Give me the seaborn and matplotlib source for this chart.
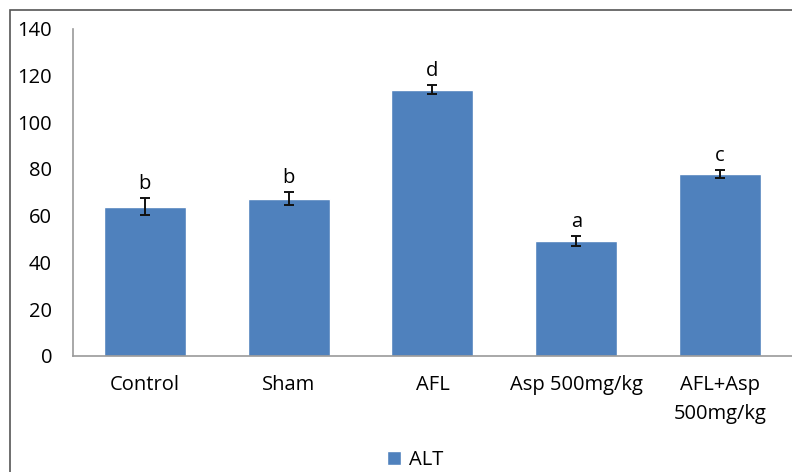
import pandas as pd
import seaborn as sns
import matplotlib.pyplot as plt
from matplotlib.patches import Rectangle

groups = ['Control', 'Sham', 'AFL', 'Asp 500mg/kg', 'AFL+Asp\n500mg/kg']
alt = [63.8, 67.2, 113.9, 49.2, 77.9]
alt_err = [3.6, 2.8, 2.0, 2.0, 1.7]
letters = ['b', 'b', 'd', 'a', 'c']

df = pd.DataFrame({'group': groups, 'ALT': alt})

sns.set_style('white')
plt.rcParams['font.family'] = ['Open Sans', 'DejaVu Sans']
plt.rcParams['text.color'] = 'black'
plt.rcParams['xtick.color'] = 'black'
plt.rcParams['ytick.color'] = 'black'

fig = plt.figure(figsize=(7.92, 4.72), dpi=100)
ax = fig.add_axes([0.092, 0.246, 0.908, 0.693])

sns.barplot(data=df, x='group', y='ALT', color='#4F81BD', width=0.57,
            saturation=1, ax=ax, label='ALT')
ax.errorbar(range(len(groups)), alt, yerr=alt_err, fmt='none',
            ecolor='#111111', elinewidth=1.4, capsize=3.8, capthick=1.4)

for i, (v, e, t) in enumerate(zip(alt, alt_err, letters)):
    ax.annotate(t, (i, v + e), xytext=(0, 3), textcoords='offset points',
                ha='center', va='bottom', fontsize=14.5)

ax.set_ylim(0, 140)
ax.set_yticks(range(0, 141, 20))
ax.set_xlim(-0.5, 4.5)
ax.set_xlabel('')
ax.set_ylabel('')
ax.tick_params(axis='both', length=0, labelsize=14.5)
ax.tick_params(axis='x', pad=14)
ax.tick_params(axis='y', pad=15)
for lab in ax.get_xticklabels():
    lab.set_linespacing(1.55)
for s in ['top', 'right']:
    ax.spines[s].set_visible(False)
for s in ['left', 'bottom']:
    ax.spines[s].set_color('#9a9a9a')
    ax.spines[s].set_linewidth(1.2)

ax.legend(loc='center', bbox_to_anchor=(0.524, 0.026), bbox_transform=fig.transFigure,
          frameon=False, fontsize=14.5, handlelength=0.7, handleheight=0.7,
          handletextpad=0.4)

fig.patches.append(Rectangle((10 / 792, -0.1), 1.2, 1.1 - 10 / 472,
                             transform=fig.transFigure, fill=False,
                             edgecolor='#555555', linewidth=1.2))

fig.savefig('out.png', dpi=100)
